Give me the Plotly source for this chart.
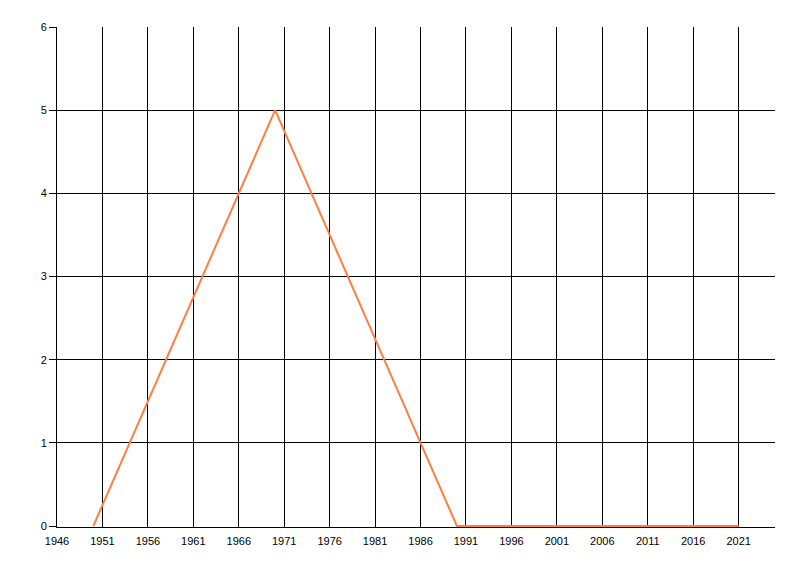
import plotly.graph_objects as go

years = [1950, 1970, 1990, 2000, 2011, 2015, 2021]
values = [0, 5, 0, 0, 0, 0, 0]
x_ticks = list(range(1946, 2022, 5))
y_ticks = [0, 1, 2, 3, 4, 5, 6]

fig = go.Figure()
fig.add_trace(go.Scatter(
    x=years, y=values, mode="lines",
    line=dict(color="#FF7F3F", width=2),
    hoverinfo="x+y", showlegend=False,
))

font = dict(family="Liberation Sans, Arial, sans-serif", size=11, color="black")

fig.update_layout(
    width=792, height=568,
    margin=dict(l=49, r=25, t=19, b=49),
    paper_bgcolor="white", plot_bgcolor="white",
    font=font,
    xaxis=dict(
        range=[1946, 2025], tickmode="array", tickvals=x_ticks,
        ticktext=[str(v) for v in x_ticks],
        showgrid=True, gridcolor="black", gridwidth=1,
        showline=True, linecolor="black", linewidth=1,
        zeroline=False, ticks="outside", ticklen=4,
        tickcolor="rgba(0,0,0,0)", tickfont=font,
    ),
    yaxis=dict(
        range=[-0.012, 6], tickmode="array", tickvals=y_ticks,
        showgrid=True, gridcolor="black", gridwidth=1,
        showline=True, linecolor="black", linewidth=1,
        zeroline=False, ticks="outside", ticklen=7, tickcolor="black",
        tickfont=font,
    ),
)

fig.write_html("out.html")
